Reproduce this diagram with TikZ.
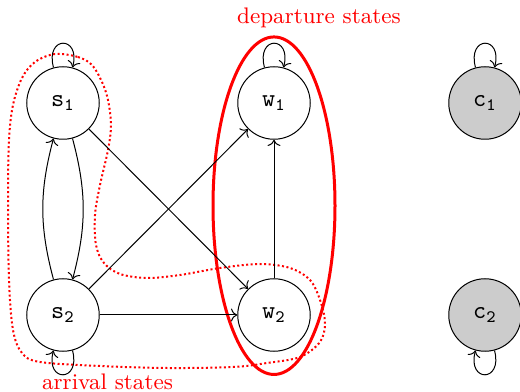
\documentclass[tikz,border=0pt]{standalone}
\usetikzlibrary{arrows.meta}
\begin{document}
\begin{tikzpicture}[x=0.4pt,y=0.4pt,
  st/.style={circle,draw,minimum size=29pt,inner sep=0pt},
  cst/.style={st,fill=gray!40},
  lbl/.style={red,font=\small},
  grp/.style={red,very thick},
  blob/.style={red,thick,densely dotted},
  every loop/.style={looseness=4.5,min distance=0pt}]
\useasboundingbox (0,0) rectangle (520,-392);
% group outlines
\draw[grp] (274,-205.7) ellipse [x radius=24.4pt, y radius=67.5pt];
\draw[blob] plot[smooth cycle, tension=0.55] coordinates {
 (55,-54) (78,-57) (92,-65) (102,-82) (108,-100) (111,-125) (108,-150)
 (100,-185) (95,-215) (96,-245) (104,-263) (120,-274) (147,-278) (180,-275)
 (220,-268) (260,-264) (290,-268) (310,-280) (320,-300) (325,-323) (320,-342)
 (300,-357) (267,-363) (233,-367) (167,-368) (100,-366) (40,-362) (22,-353)
 (13,-330) (9,-280) (8,-200) (9,-140) (13,-105) (22,-78) (35,-62)};
% states
\node[st] (s1) at (63,-103) {$\mathtt{s_1}$};
\node[st] (s2) at (63,-315) {$\mathtt{s_2}$};
\node[st] (w1) at (274,-103) {$\mathtt{w_1}$};
\node[st] (w2) at (274,-315) {$\mathtt{w_2}$};
\node[cst] (c1) at (485,-103) {$\mathtt{c_1}$};
\node[cst] (c2) at (485,-315) {$\mathtt{c_2}$};
% labels
\node[lbl] (dep) at (319,-18) {departure states};
\node[lbl] (arr) at (107.5,-382) {arrival states};
% transitions
\path[->]
 (s1) edge[loop above] (s1)
 (w1) edge[loop above] (w1)
 (c1) edge[loop above] (c1)
 (s2) edge[loop below] (s2)
 (c2) edge[loop below] (c2)
 (s1) edge[bend left=15] (s2)
 (s2) edge[bend left=15] (s1)
 (s1) edge (w2)
 (s2) edge (w1)
 (s2) edge (w2)
 (w2) edge (w1);
\end{tikzpicture}
\end{document}
